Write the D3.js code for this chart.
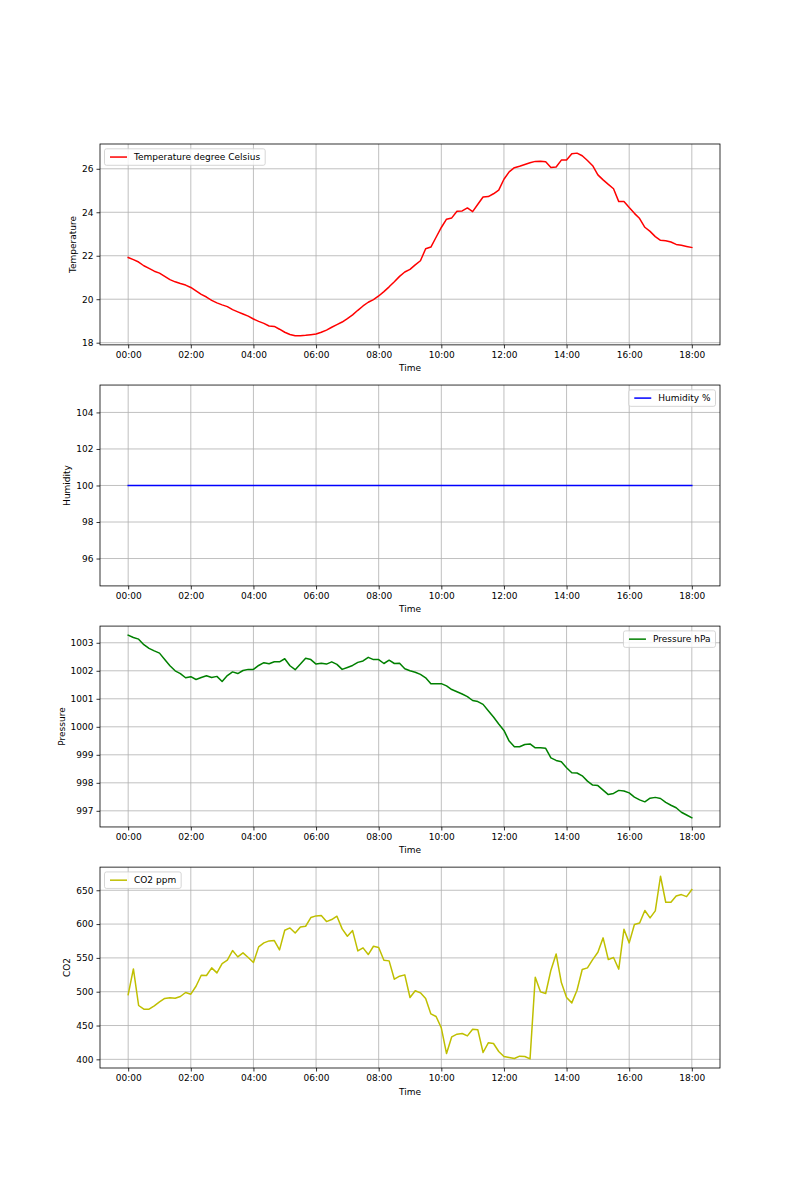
<!DOCTYPE html>
<html><head><meta charset="utf-8">
<script src="https://cdn.jsdelivr.net/npm/d3@7"></script>
<style>body{margin:0;background:#fff} svg{display:block} text{font-family:"DejaVu Sans",sans-serif}</style>
</head><body><svg id="chart" width="800" height="1200"></svg>
<script>
// ---- data ----
const startTime = "2020-01-01 00:00";
const stepMinutes = 10;

const temperature = [
21.92,21.82,21.71,21.54,21.42,21.29,21.2,21.05,20.9,20.8,
20.72,20.65,20.54,20.38,20.22,20.1,19.95,19.83,19.74,19.66,
19.52,19.42,19.32,19.22,19.09,18.98,18.89,18.77,18.75,18.62,
18.48,18.38,18.32,18.32,18.34,18.37,18.4,18.48,18.58,18.71,
18.83,18.95,19.11,19.28,19.49,19.69,19.86,19.98,20.15,20.35,
20.57,20.8,21.05,21.25,21.37,21.58,21.77,22.32,22.4,22.85,
23.3,23.68,23.74,24.05,24.06,24.2,24.03,24.37,24.7,24.72,
24.85,25.02,25.52,25.86,26.05,26.12,26.2,26.28,26.34,26.35,
26.32,26.06,26.08,26.4,26.4,26.69,26.72,26.6,26.38,26.14,
25.72,25.49,25.28,25.08,24.49,24.49,24.22,23.95,23.71,23.31,
23.12,22.88,22.71,22.69,22.63,22.52,22.48,22.43,22.38];

const humidity = [
100,100,100,100,100,100,100,100,100,100,
100,100,100,100,100,100,100,100,100,100,
100,100,100,100,100,100,100,100,100,100,
100,100,100,100,100,100,100,100,100,100,
100,100,100,100,100,100,100,100,100,100,
100,100,100,100,100,100,100,100,100,100,
100,100,100,100,100,100,100,100,100,100,
100,100,100,100,100,100,100,100,100,100,
100,100,100,100,100,100,100,100,100,100,
100,100,100,100,100,100,100,100,100,100,
100,100,100,100,100,100,100,100,100];

const pressure = [
1003.27,1003.19,1003.13,1002.93,1002.8,1002.71,1002.63,1002.4,1002.18,1002.0,
1001.9,1001.75,1001.79,1001.69,1001.76,1001.82,1001.76,1001.8,1001.62,1001.83,
1001.96,1001.9,1002.01,1002.05,1002.05,1002.19,1002.29,1002.25,1002.32,1002.32,
1002.43,1002.18,1002.04,1002.24,1002.45,1002.4,1002.24,1002.27,1002.24,1002.32,
1002.23,1002.05,1002.12,1002.19,1002.3,1002.35,1002.48,1002.4,1002.4,1002.26,
1002.38,1002.26,1002.27,1002.07,1002.0,1001.95,1001.87,1001.75,1001.54,1001.54,
1001.54,1001.46,1001.33,1001.25,1001.17,1001.08,1000.94,1000.9,1000.8,1000.57,
1000.35,1000.1,999.87,999.49,999.29,999.29,999.37,999.39,999.25,999.25,
999.23,998.89,998.8,998.75,998.54,998.36,998.35,998.25,998.06,997.92,
997.9,997.74,997.58,997.62,997.73,997.71,997.64,997.49,997.39,997.32,
997.45,997.48,997.44,997.3,997.2,997.11,996.95,996.85,996.75];

const co2 = [
495.8,533.7,479.6,474.1,474.1,479.1,485,490,491,490.4,
492.9,498.8,496.3,508.1,524.4,523.9,535.2,527.8,541.6,546.6,
560.8,551.5,557.4,550.5,543.1,566.3,572.2,575.1,575.6,561.8,
590.9,594.3,586.9,595.8,596.8,609.6,612.1,612.6,603.7,606.7,
611.6,592.9,582,590.4,560.3,564.8,554.9,567.2,565.3,546.6,
545.6,518.5,522.9,524.9,491.4,501.5,498.3,489.9,467.2,463.3,
446.6,408.6,433.3,437.2,438.2,434.7,444.6,443.6,410.1,424.4,
423.4,411.6,404.2,402.7,401.2,404.7,404.2,400.7,521.4,499.8,
497.3,531.8,555.9,513.5,491.4,483.5,502.2,532.8,535.2,547.5,
558.4,579.6,547.5,550.5,533.3,592.4,572.2,599.3,601.7,620,
609.1,619.5,670.7,632.3,632.3,641.6,643.6,640.6,651];

const xTickLabels = ["00:00","02:00","04:00","06:00","08:00","10:00","12:00","14:00","16:00","18:00"];
const temperatureTicks = [18,20,22,24,26];
const humidityTicks = [96,98,100,102,104];
const pressureTicks = [997,998,999,1000,1001,1002,1003];
const co2Ticks = [400,450,500,550,600,650];

// ---- layout ----
const svg = d3.select("#chart");
const left = 100, right = 720, figTop = 144, figBottom = 1068;
const nRows = 4, hspace = 0.2;
const axH = (figBottom - figTop) / (nRows + (nRows - 1) * hspace);
const gapH = axH * hspace;
const FS = 9;

const parseFull = d3.timeParse("%Y-%m-%d %H:%M");
const t0 = parseFull(startTime);
const times = temperature.map((_, i) => d3.timeMinute.offset(t0, i * stepMinutes));
const xTickDates = xTickLabels.map(s => parseFull(startTime.slice(0, 11) + s));

const panels = [
  {values: temperature, color: "#ff0000", ylabel: "Temperature", legend: "Temperature degree Celsius", legendLoc: "left", ticks: temperatureTicks},
  {values: humidity, color: "#0000ff", ylabel: "Humidity", legend: "Humidity %", legendLoc: "right", ticks: humidityTicks},
  {values: pressure, color: "#008000", ylabel: "Pressure", legend: "Pressure hPa", legendLoc: "right", ticks: pressureTicks},
  {values: co2, color: "#bfbf00", ylabel: "CO2", legend: "CO2 ppm", legendLoc: "left", ticks: co2Ticks}
];

function withMargin(lo, hi) {
  if (lo === hi) { const d = Math.abs(lo) * 0.05 || 1; lo -= d; hi += d; }
  const m = (hi - lo) * 0.05;
  return [lo - m, hi + m];
}

const tExt = d3.extent(times);
const tSpan = tExt[1] - tExt[0];
const x = d3.scaleTime()
  .domain([new Date(+tExt[0] - tSpan * 0.05), new Date(+tExt[1] + tSpan * 0.05)])
  .range([left, right]);

panels.forEach((p, k) => {
  const top = figTop + k * (axH + gapH);
  const bottom = top + axH;
  const ext = d3.extent(p.values);
  const y = d3.scaleLinear().domain(withMargin(ext[0], ext[1])).range([bottom, top]);
  const g = svg.append("g");

  // grid
  g.append("g").selectAll("line").data(xTickDates).join("line")
    .attr("x1", d => x(d)).attr("x2", d => x(d)).attr("y1", top).attr("y2", bottom)
    .attr("stroke", "#b0b0b0").attr("stroke-width", 0.8);
  g.append("g").selectAll("line").data(p.ticks).join("line")
    .attr("x1", left).attr("x2", right).attr("y1", d => y(d)).attr("y2", d => y(d))
    .attr("stroke", "#b0b0b0").attr("stroke-width", 0.8);

  // line
  const line = d3.line().x((d, i) => x(times[i])).y(d => y(d));
  g.append("path").datum(p.values).attr("d", line)
    .attr("fill", "none").attr("stroke", p.color).attr("stroke-width", 1.5)
    .attr("stroke-linejoin", "round").attr("stroke-linecap", "square");

  // axes
  const xAxis = d3.axisBottom(x).tickValues(xTickDates)
    .tickFormat((d, i) => xTickLabels[i]).tickSize(3.5).tickPadding(3);
  const gx = g.append("g").attr("transform", `translate(0,${bottom})`).call(xAxis);
  const yAxis = d3.axisLeft(y).tickValues(p.ticks).tickFormat(d3.format("d")).tickSize(3.5).tickPadding(3);
  const gy = g.append("g").attr("transform", `translate(${left},0)`).call(yAxis);
  [gx, gy].forEach(a => {
    a.select(".domain").remove();
    a.selectAll(".tick line").attr("stroke", "#000").attr("stroke-width", 0.8);
    a.selectAll(".tick text").attr("font-size", FS).attr("font-family", "DejaVu Sans").attr("fill", "#000");
  });

  // frame
  g.append("rect").attr("x", left).attr("y", top).attr("width", right - left).attr("height", bottom - top)
    .attr("fill", "none").attr("stroke", "#000").attr("stroke-width", 0.8);

  // axis labels
  g.append("text").attr("x", (left + right) / 2).attr("y", bottom + 26.5)
    .attr("text-anchor", "middle").attr("font-size", FS).text("Time");
  let minLeft = left;
  gy.selectAll(".tick text").each(function() {
    const b = this.getBBox();
    const ctm = this.getCTM();
    minLeft = Math.min(minLeft, b.x + ctm.e);
  });
  const ly = (top + bottom) / 2;
  const lx = minLeft - 9;
  g.append("text").attr("transform", `translate(${lx},${ly}) rotate(-90)`)
    .attr("text-anchor", "middle").attr("dominant-baseline", "central")
    .attr("font-size", FS).text(p.ylabel);

  // legend
  const lg = g.append("g");
  const rect = lg.append("rect");
  const txt = lg.append("text").attr("font-size", FS).text(p.legend);
  const tw = txt.node().getComputedTextLength();
  const padL = 5.5, handle = 17, gap = 7, padR = 5, h = 16.5;
  const w = padL + handle + gap + tw + padR;
  const bx = p.legendLoc === "left" ? left + 4.5 : right - 4.5 - w;
  const by = top + 4.8;
  rect.attr("x", bx).attr("y", by).attr("width", w).attr("height", h).attr("rx", 2)
    .attr("fill", "#fff").attr("fill-opacity", 0.8).attr("stroke", "#cccccc").attr("stroke-width", 0.8);
  lg.append("line").attr("x1", bx + padL).attr("x2", bx + padL + handle)
    .attr("y1", by + h / 2).attr("y2", by + h / 2).attr("stroke", p.color).attr("stroke-width", 1.5);
  txt.attr("x", bx + padL + handle + gap).attr("y", by + h / 2).attr("dominant-baseline", "central");
});
</script>
</body></html>
